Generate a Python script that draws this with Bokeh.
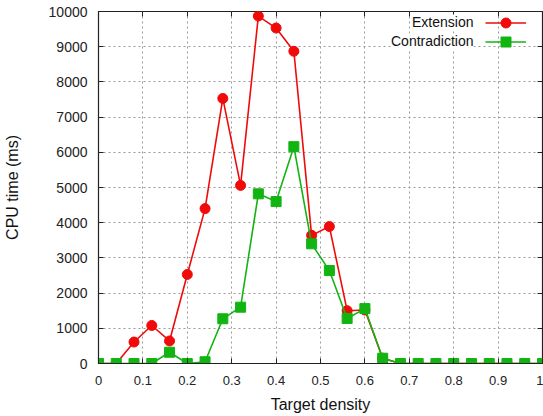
from bokeh.plotting import figure
from bokeh.models import (Range1d, FixedTicker, PrintfTickFormatter, LinearAxis,
                          CustomJSTickFormatter, Legend, LegendItem, Label)
from bokeh.embed import file_html
from bokeh.resources import INLINE

density = [0.0, 0.04, 0.08, 0.12, 0.16, 0.20, 0.24, 0.28, 0.32, 0.36, 0.40, 0.44,
           0.48, 0.52, 0.56, 0.60, 0.64, 0.68, 0.72, 0.76, 0.80, 0.84, 0.88, 0.92,
           0.96, 1.0]
extension = [0, 0, 610, 1080, 640, 2530, 4400, 7530, 5060, 9870, 9530, 8870,
             3640, 3890, 1500, 1520, 150, 0, 0, 0, 0, 0, 0, 0, 0, 0]
contradiction = [0, 0, 0, 0, 320, 0, 50, 1270, 1600, 4820, 4600, 6160,
                 3400, 2640, 1280, 1560, 150, 0, 0, 0, 0, 0, 0, 0, 0, 0]
x_ticks = [0, 0.1, 0.2, 0.3, 0.4, 0.5, 0.6, 0.7, 0.8, 0.9, 1.0]
y_ticks = [0, 1000, 2000, 3000, 4000, 5000, 6000, 7000, 8000, 9000, 10000]
series_names = ["Extension", "Contradiction"]

FONT = "Liberation Sans"
RED = "#f00a0a"
GREEN = "#12b412"

p = figure(width=543, height=416, output_backend="svg", toolbar_location=None,
           x_range=Range1d(0, 1), y_range=Range1d(0, 10000),
           min_border_left=98, min_border_right=1, min_border_top=11,
           min_border_bottom=53)
p.background_fill_color = "white"
p.border_fill_color = "white"
p.outline_line_color = "#222222"
p.outline_line_width = 1.2

for ax in p.xaxis:
    ax.ticker = FixedTicker(ticks=x_ticks)
    ax.formatter = PrintfTickFormatter(format="%g")
    ax.axis_label = "Target density"
for ax in p.yaxis:
    ax.ticker = FixedTicker(ticks=y_ticks)
    ax.axis_label = "CPU time (ms)"

for ax in list(p.xaxis) + list(p.yaxis):
    ax.major_tick_in = 5
    ax.major_tick_out = 0
    ax.minor_tick_line_color = None
    ax.axis_line_color = "#222222"
    ax.major_tick_line_color = "#222222"
    ax.major_label_text_font = FONT
    ax.major_label_text_color = "#222222"
    ax.axis_label_text_font = FONT
    ax.axis_label_text_font_style = "normal"
    ax.axis_label_text_font_size = "16px"
    ax.axis_label_text_color = "#111111"

p.xaxis.major_label_text_font_size = "13px"
p.xaxis.major_label_standoff = 12
p.xaxis.axis_label_standoff = 8
p.yaxis.major_label_text_font_size = "14px"
p.yaxis.major_label_standoff = 11
p.yaxis.axis_label_standoff = 25

# inward ticks on the top and right edges of the frame, no labels
blank = CustomJSTickFormatter(code="return '';")
top = LinearAxis(ticker=FixedTicker(ticks=x_ticks), formatter=blank,
                 major_label_standoff=0, major_tick_in=5, major_tick_out=0,
                 minor_tick_line_color=None, axis_line_color=None,
                 major_tick_line_color="#222222")
right = LinearAxis(ticker=FixedTicker(ticks=y_ticks), formatter=blank,
                   major_label_standoff=0, major_tick_in=5, major_tick_out=0,
                   minor_tick_line_color=None, axis_line_color=None,
                   major_tick_line_color="#222222")
p.add_layout(top, "above")
p.add_layout(right, "right")

p.xgrid.ticker = FixedTicker(ticks=x_ticks)
p.ygrid.ticker = FixedTicker(ticks=y_ticks)
for g in (p.xgrid, p.ygrid):
    g.grid_line_color = "#9a9a9a"
    g.grid_line_dash = "2 3"
    g.grid_line_width = 1

r1 = p.line(density, extension, line_color=RED, line_width=1.6)
s1 = p.scatter(density, extension, marker="circle", size=10,
               fill_color=RED, line_color=RED)
r2 = p.line(density, contradiction, line_color=GREEN, line_width=1.6)
s2 = p.scatter(density, contradiction, marker="square", size=10,
               fill_color=GREEN, line_color=GREEN)

for i, (rs, loc) in enumerate([([r1, s1], (387, 328)), ([r2, s2], (387, 309))]):
    lg = Legend(items=[LegendItem(label=" ", renderers=rs)],
                location=loc, orientation="vertical",
                glyph_width=41, glyph_height=25, spacing=0, padding=0,
                label_width=0, label_standoff=0, label_text_font_size="14px",
                border_line_color=None, background_fill_alpha=0.0,
                margin=0)
    p.add_layout(lg, "center")

for i, name in enumerate(series_names):
    p.add_layout(Label(x=0.8446, y=9688 - i * 540, text=name,
                       text_align="right", text_baseline="middle",
                       text_font=FONT, text_font_size="14px",
                       text_color="#111111", background_fill_color="white"))

open("out.html", "w").write(file_html(p, INLINE))
